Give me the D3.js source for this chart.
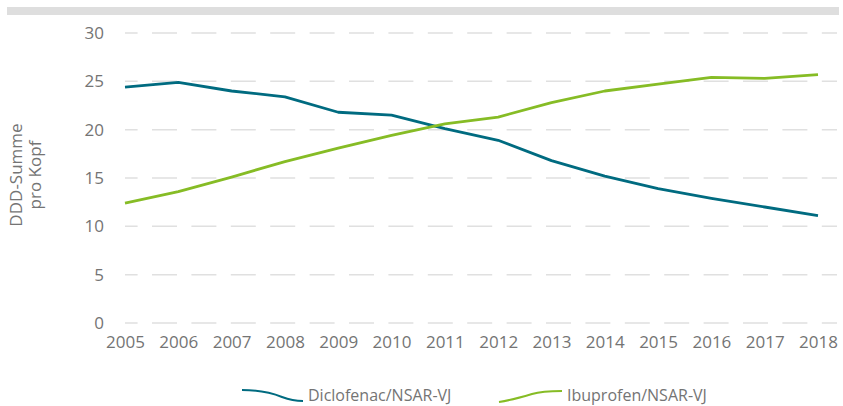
<!DOCTYPE html>
<html><head><meta charset="utf-8">
<script src="https://cdn.jsdelivr.net/npm/d3@7"></script>
<style>
html,body{margin:0;padding:0;background:#fff;}
svg{display:block;font-family:"Open Sans",sans-serif;}
</style></head>
<body><svg id="chart" width="843" height="406"></svg>
<script>
const years = [2005,2006,2007,2008,2009,2010,2011,2012,2013,2014,2015,2016,2017,2018];
const diclofenac = [24.4,24.9,24.0,23.4,21.8,21.5,20.1,18.9,16.8,15.2,13.9,12.9,12.0,11.1];
const ibuprofen = [12.4,13.6,15.1,16.7,18.1,19.4,20.6,21.3,22.8,24.0,24.7,25.4,25.3,25.7];
const yTicks = [0,5,10,15,20,25,30];
const seriesNames = ["Diclofenac/NSAR-VJ","Ibuprofen/NSAR-VJ"];
const colors = ["#006b80","#86bc25"];
const axisTitle = ["DDD-Summe","pro Kopf"];

const svg = d3.select("#chart");
const textColor = "#747474";

// top gray bar
svg.append("rect").attr("x",7).attr("y",7).attr("width",832).attr("height",8).attr("fill","#dedede");

const x = d3.scalePoint().domain(years).range([125,818]);
const y = d3.scaleLinear().domain([0,30]).range([323,33]);

// gridlines
const grid = svg.append("g");
yTicks.forEach(t=>{
  grid.append("line").attr("x1",125).attr("x2",837).attr("y1",y(t)).attr("y2",y(t))
    .attr("stroke","#e0e0e0").attr("stroke-width",1.5)
    .attr("stroke-dasharray","25,14.4").attr("stroke-dashoffset",12.4);
});

// y axis labels
const yAxis = d3.axisLeft(y).tickValues(yTicks).tickSize(0).tickPadding(0);
const gy = svg.append("g").attr("transform","translate(104,0)").call(yAxis);
gy.select(".domain").remove();
gy.selectAll("text").attr("fill",textColor).style("font-size","17px").style("font-family","'Open Sans',sans-serif");

// x axis labels
const xAxis = d3.axisBottom(x).tickSize(0).tickPadding(0);
const gx = svg.append("g").attr("transform","translate(0,336)").call(xAxis);
gx.select(".domain").remove();
gx.selectAll("text").attr("fill",textColor).style("font-size","17px").style("font-family","'Open Sans',sans-serif");

// axis title
const title = svg.append("text").attr("transform","translate(22,175) rotate(-90)")
  .attr("text-anchor","middle").attr("fill",textColor).style("font-size","17px");
title.append("tspan").attr("x",0).attr("dy",0).text(axisTitle[0]);
title.append("tspan").attr("x",0).attr("dy",19).text(axisTitle[1]);

// lines
const line = d3.line().x((d,i)=>x(years[i])).y(d=>y(d));
[diclofenac, ibuprofen].forEach((s,k)=>{
  svg.append("path").datum(s).attr("d",line).attr("fill","none")
    .attr("stroke",colors[k]).attr("stroke-width",2.8).attr("stroke-linejoin","round");
});

// legend
const leg = svg.append("g");
leg.append("path").attr("d","M242,390 C262,390 272,393 282,397 C290,400 296,401 303,401")
  .attr("fill","none").attr("stroke",colors[0]).attr("stroke-width",2);
leg.append("text").attr("x",308).attr("y",401).attr("fill",textColor).style("font-size","16px").text(seriesNames[0]);
leg.append("path").attr("d","M499,402 C512,400 522,397 532,394 C542,391 552,391 562,391")
  .attr("fill","none").attr("stroke",colors[1]).attr("stroke-width",2);
leg.append("text").attr("x",567).attr("y",401).attr("fill",textColor).style("font-size","16px").text(seriesNames[1]);
</script></body></html>
